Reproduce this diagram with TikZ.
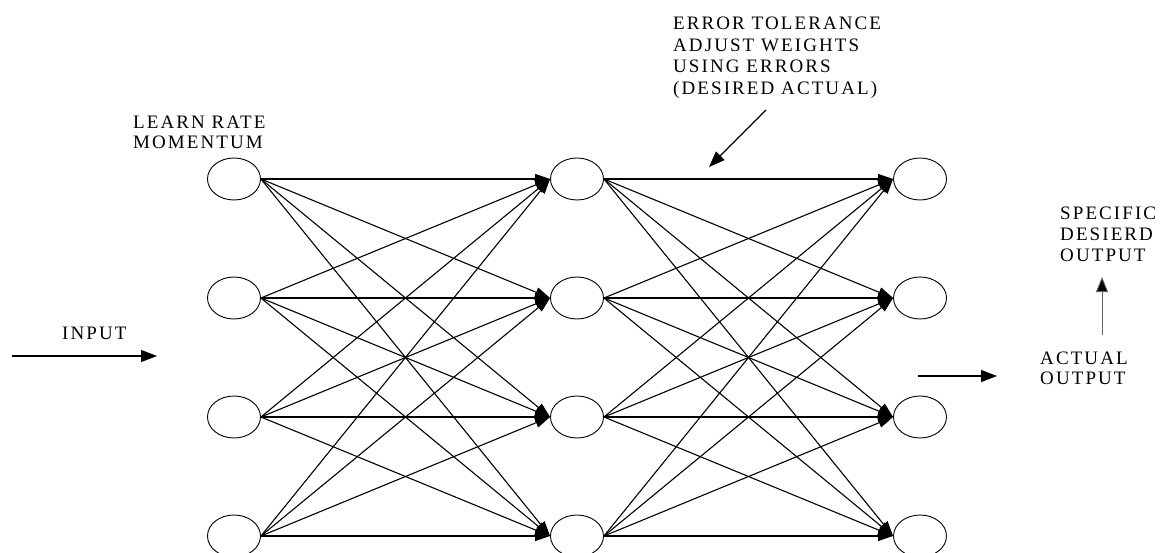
\documentclass[tikz,border=0pt]{standalone}
\usepackage{fontspec}
\setmainfont{Liberation Serif}[LetterSpace=11]
\usetikzlibrary{arrows.meta,shapes.geometric}
\begin{document}
\begin{tikzpicture}[x=1pt,y=-1pt,
  neuron/.style={draw,line width=0.9pt,ellipse,minimum width=53pt,minimum height=42pt,inner sep=0pt},
  link/.style={line width=1.1pt,-{Triangle[length=15pt,width=10pt]}},
  arr/.style={line width=1.1pt,-{Triangle[length=16pt,width=12pt]}},
  lbl/.style={anchor=north west,inner sep=0pt,align=left,font=\fontsize{19pt}{21pt}\selectfont}
]
\useasboundingbox (0,0) rectangle (1164,553);
\foreach \c/\x in {1/234,2/577,3/920}
  \foreach \r/\y in {1/179,2/298,3/417,4/536}
    \node[neuron] (n\c\r) at (\x,\y) {};
\foreach \i in {1,...,4}
  \foreach \j in {1,...,4} {
    \draw[link] (n1\i.east) -- (n2\j.west);
    \draw[link] (n2\i.east) -- (n3\j.west);
  }
% input
\coordinate (inS) at (12,356);
\coordinate (inE) at (157,356);
\draw[arr] (inS) -- (inE);
\node[lbl] (inlbl) at (62,326.7) {INPUT};
% learn rate
\node[lbl,font=\fontsize{19pt}{20pt}\selectfont] (lr) at (133,115.7) {LEARN RATE\\MOMENTUM};
% error tolerance
\node[lbl,font=\fontsize{19pt}{21.7pt}\selectfont] (err) at (673,16.7) {ERROR TOLERANCE\\ADJUST WEIGHTS\\USING ERRORS\\(DESIRED ACTUAL)};
\coordinate (eS) at (766,110);
\coordinate (eE) at (709,167);
\draw[arr] (eS) -- (eE);
% actual output
\coordinate (aS) at (918,376);
\coordinate (aE) at (997,376);
\draw[arr] (aS) -- (aE);
\node[lbl,font=\fontsize{19pt}{20pt}\selectfont] (act) at (1040,351.7) {ACTUAL\\OUTPUT};
% specific desired output
\coordinate (vS) at (1102,335);
\coordinate (vE) at (1102,277);
\draw[line width=0.9pt,black!60,-{Triangle[length=15pt,width=12pt,fill=black]}] (vS) -- (vE);
\node[lbl,font=\fontsize{19pt}{21pt}\selectfont] (spec) at (1060,206.7) {SPECIFIC\\DESIERD\\OUTPUT};
\end{tikzpicture}
\end{document}
